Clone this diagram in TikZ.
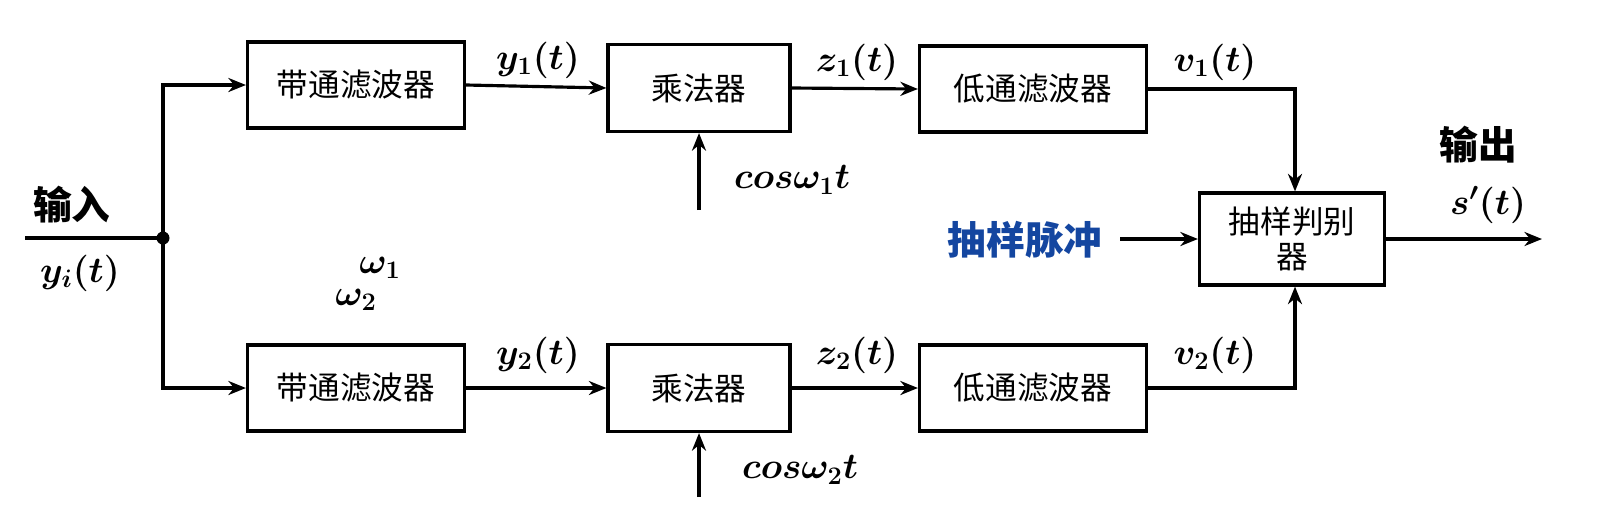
\documentclass[tikz,border=0pt]{standalone}
\usepackage{fontspec}
\usepackage{amsmath,bm}
\newfontfamily\cjk{Noto Sans CJK SC}
\usetikzlibrary{arrows.meta}
\definecolor{bl}{RGB}{20,70,160}
\newcommand{\bs}[1]{\mathbf{#1}}
\begin{document}
\begin{tikzpicture}[x=0.02cm,y=-0.02cm,
  blk/.style={draw,line width=1.8pt,minimum width=217*0.02cm,minimum height=86*0.02cm,font=\cjk\fontsize{18}{20}\selectfont,inner sep=0pt},
  ml/.style={draw,line width=1.8pt,minimum width=182*0.02cm,minimum height=87*0.02cm,font=\cjk\fontsize{18}{20}\selectfont,inner sep=0pt},
  arr/.style={line width=1.8pt,-{Stealth[length=10pt,width=8pt]}},
  ln/.style={line width=1.8pt},
  lab/.style={font=\fontsize{22}{24}\selectfont},
  cn/.style={font=\cjk\bfseries\fontsize{22}{24}\selectfont}]
\useasboundingbox (0,0) rectangle (1616,522);
\node[blk] (b1) at (356,85) {带通滤波器};
\node[ml] (m1) at (699,88) {乘法器};
\node[blk,minimum width=227*0.02cm] (l1) at (1033,89) {低通滤波器};
\node[blk] (b2) at (356,388) {带通滤波器};
\node[ml] (m2) at (699,388) {乘法器};
\node[blk,minimum width=227*0.02cm] (l2) at (1033,388) {低通滤波器};
\node[draw,line width=1.8pt,minimum width=185*0.02cm,minimum height=92*0.02cm,font=\cjk\fontsize{18}{20}\selectfont,align=center,inner sep=0pt,text width=150*0.02cm] (s) at (1292,239) {抽样判别\\器};
\fill (163,238) circle (6.5) coordinate (d);
\coordinate (in) at (25,238);
\draw[ln] (in) -- (d);
\draw[arr] (d) |- (b1.west);
\draw[arr] (d) |- (b2.west);
\draw[arr] (b1.east) -- (m1.west);
\draw[arr] (m1.east) -- (l1.west);
\draw[arr] (b2.east) -- (m2.west);
\draw[arr] (m2.east) -- (l2.west);
\draw[arr] (l1.east) -| (s.north -| 1295,0);
\draw[arr] (l2.east) -| (s.south -| 1295,0);
\coordinate (c1) at (699,210);
\coordinate (c2) at (699,497);
\draw[arr] (c1) -- (m1.south);
\draw[arr] (c2) -- (m2.south);
\node[cn,text=bl] (sp) at (1025,240) {抽样脉冲};
\coordinate (spe) at (1120,239);
\draw[arr] (spe) -- (s.west);
\coordinate (out) at (1542,239);
\draw[arr] (s.east) -- (out);
\node[cn] (t1) at (72,205) {输入};
\node[cn] (t2) at (1478,145) {输出};
\node[lab] (a1) at (80,273) {$\bm{y_{\bm{i}}(t)}$};
\node[lab] (a2) at (538,60) {$\bm{y_{\bs1}(t)}$};
\node[lab] (a3) at (857,62) {$\bm{z_{\bs1}(t)}$};
\node[lab] (a4) at (1215,62) {$\bm{v_{\bs1}(t)}$};
\node[lab] (a5) at (538,355) {$\bm{y_{\bs2}(t)}$};
\node[lab] (a6) at (857,355) {$\bm{z_{\bs2}(t)}$};
\node[lab] (a7) at (1215,355) {$\bm{v_{\bs2}(t)}$};
\node[lab] (a8) at (1488,205) {$\bm{s'(t)}$};
\node[lab] (a9) at (792,180) {$\bm{cos\omega_{\bs1}t}$};
\node[lab] (a10) at (800,470) {$\bm{cos\omega_{\bs2}t}$};
\node[lab] (a11) at (380,268) {$\bm{\omega_{\bs1}}$};
\node[lab] (a12) at (356,300) {$\bm{\omega_{\bs2}}$};
\end{tikzpicture}
\end{document}
